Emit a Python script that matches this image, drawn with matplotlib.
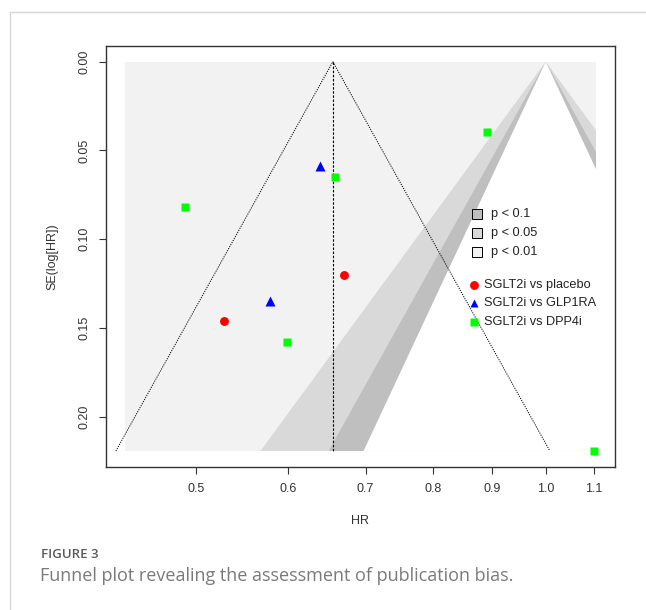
import matplotlib
matplotlib.use('Agg')
import numpy as np
import matplotlib.pyplot as plt
from matplotlib.patches import Polygon, Rectangle
from matplotlib.lines import Line2D

plt.rcParams['font.family'] = ['Liberation Sans', 'DejaVu Sans']

# study estimates
hr_placebo = [0.670, 0.529]
se_placebo = [0.120, 0.146]
hr_glp1 = [0.640, 0.579]
se_glp1 = [0.0586, 0.135]
hr_dpp4 = [0.489, 0.659, 0.890, 0.599, 1.100]
se_dpp4 = [0.0818, 0.0649, 0.0396, 0.1578, 0.2193]

series_labels = ['SGLT2i vs placebo', 'SGLT2i vs GLP1RA', 'SGLT2i vs DPP4i']
pooled_hr = 0.656

contour_z = [2.576, 1.96, 1.645]
contour_labels = ['p < 0.1', 'p < 0.05', 'p < 0.01']
contour_cols = ['#bfbfbf', '#d9d9d9', '#f2f2f2']
shade_left, shade_right = 0.4347, 1.1047

x_ticks = [0.5, 0.6, 0.7, 0.8, 0.9, 1.0, 1.1]
x_ticklabels = ['0.5', '0.6', '0.7', '0.8', '0.9', '1.0', '1.1']
y_ticks = [0.00, 0.05, 0.10, 0.15, 0.20]
y_ticklabels = ['0.00', '0.05', '0.10', '0.15', '0.20']

se_max = max(se_placebo + se_glp1 + se_dpp4)

fig = plt.figure(figsize=(6.46, 6.10), dpi=100)
ax = fig.add_axes([106.3 / 646, 1 - 467.3 / 610, 508.4 / 646, 421.6 / 610])
ax.set_xscale('log')

# contour-enhanced background
rect = Rectangle((shade_left, 0), shade_right - shade_left, se_max,
                 facecolor=contour_cols[2], edgecolor='none', zorder=1)
ax.add_patch(rect)
fills = [contour_cols[1], contour_cols[0], 'white']
for z, col in zip(contour_z, fills):
    wedge = Polygon([(np.exp(-z * se_max), se_max), (1.0, 0.0),
                     (np.exp(z * se_max), se_max)],
                    closed=True, facecolor=col, edgecolor='none', zorder=2)
    ax.add_patch(wedge)
    wedge.set_clip_path(rect)

# funnel
lo = pooled_hr * np.exp(-1.96 * se_max)
hi = pooled_hr * np.exp(1.96 * se_max)
ax.plot([lo, pooled_hr, hi], [se_max, 0, se_max], color='black', lw=0.7,
        ls=(0, (1.2, 1.2)), zorder=3)
ax.plot([pooled_hr, pooled_hr], [0, se_max], color='black', lw=0.8,
        ls=(0, (2.2, 1.5)), zorder=3)

ax.plot(hr_placebo, se_placebo, 'o', color='#ff0000', ms=6.4, mec='none', zorder=4)
ax.plot(hr_glp1, se_glp1, '^', color='#0000ff', ms=6.7, mec='none', zorder=4)
ax.plot(hr_dpp4, se_dpp4, 's', color='#00ff00', ms=6.3, mec='none', zorder=4)

ax.set_xlim(0.4188, 1.1465)
ax.set_ylim(0.2285, -0.009)
ax.set_xticks(x_ticks)
ax.set_xticklabels(x_ticklabels)
ax.xaxis.set_minor_locator(matplotlib.ticker.NullLocator())
ax.set_yticks(y_ticks)
ax.set_yticklabels(y_ticklabels, rotation=90, va='center')
ax.tick_params(axis='both', length=5, width=0.8, color='#333333',
               labelsize=9, labelcolor='#333333')
ax.tick_params(axis='x', pad=6.5)
ax.tick_params(axis='y', pad=6.5)
for s in ax.spines.values():
    s.set_color('#333333')
    s.set_linewidth(1.0)

ax.set_xlabel('HR', fontsize=9, color='#333333', labelpad=14)
ax.set_ylabel('SE(log[HR])', fontsize=9, color='#333333', labelpad=14)

# legends
for i, (lab, col) in enumerate(zip(contour_labels, contour_cols)):
    y = 0.601 - i * 0.045
    ax.plot([0.729], [y], 's', ms=6.8, mfc=col, mec='black', mew=0.7,
            transform=ax.transAxes, clip_on=False, zorder=5)
    ax.text(0.757, y, lab, fontsize=9.2, color='#222222', va='center',
            transform=ax.transAxes)
marks = [('o', '#ff0000'), ('^', '#0000ff'), ('s', '#00ff00')]
for i, (lab, (m, col)) in enumerate(zip(series_labels, marks)):
    y = 0.433 - i * 0.044
    ax.plot([0.723], [y], m, ms=6.4, color=col, mec='none',
            transform=ax.transAxes, clip_on=False, zorder=5)
    ax.text(0.743, y, lab, fontsize=9.2, color='#222222', va='center',
            transform=ax.transAxes)

# page frame and caption
fig.add_artist(Line2D([9.5 / 646, 9.5 / 646], [0, 1 - 11.5 / 610],
                      color='#d6d6d6', lw=1))
fig.add_artist(Line2D([9.5 / 646, 1], [1 - 11.5 / 610, 1 - 11.5 / 610],
                      color='#d6d6d6', lw=1))
fig.text(41 / 646, 1 - 555 / 610, 'FIGURE 3', fontsize=9.5, color='#5a5a5a',
         fontweight='semibold', family=['Open Sans', 'DejaVu Sans'],
         va='center')
fig.text(40 / 646, 1 - 576 / 610,
         'Funnel plot revealing the assessment of publication bias.',
         fontsize=13, color='#7a7a7a', family=['Open Sans', 'DejaVu Sans'],
         va='center')

fig.savefig('out.png', dpi=100)
